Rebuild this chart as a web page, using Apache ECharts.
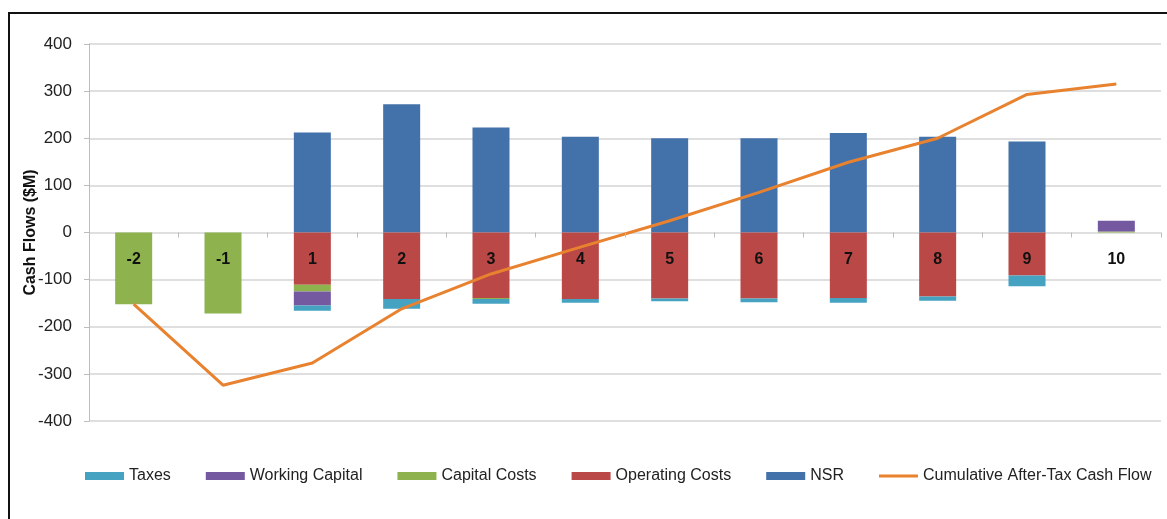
<!DOCTYPE html>
<html>
<head>
<meta charset="utf-8">
<script src="https://cdn.jsdelivr.net/npm/echarts@6/dist/echarts.min.js"></script>
<style>
  html, body { margin: 0; padding: 0; background: #fff; }
  #frame { position: absolute; left: 8px; top: 12px; width: 1170px; height: 520px;
           border-left: 2px solid #111; border-top: 2px solid #111; box-sizing: border-box; }
  #chart { position: absolute; left: 0; top: 0; width: 1167px; height: 519px; }
</style>
</head>
<body>
<div id="frame"></div>
<div id="chart"></div>
<script>
// Project years (pre-production years -2, -1 then operating years 1..10)
const years = ['-2', '-1', '1', '2', '3', '4', '5', '6', '7', '8', '9', '10'];

// Annual cash flow components, $M
const nsr            = [0, 0, 212, 272, 223, 203, 200, 200, 211, 203, 193, 0];
const operatingCosts = [0, 0, -111, -141, -139, -141, -140, -140, -139, -136, -91, 0];
const capitalCosts   = [-152, -172, -14, 0, -2, 0, 0, 0, 0, 0, 0, 2];
const workingCapital = [0, 0, -30, 0, 0, 0, 0, 0, 0, 0, 0, 23];
const taxes          = [0, 0, -11, -21, -10, -8, -6, -8, -10, -9, -23, 0];

// Running total of after-tax cash flow, $M
const cumulative = [-152, -324, -277, -162, -88, -31, 25, 85, 149, 200, 293, 315];

// Value axis ticks
const yTicks = { min: -400, max: 400, step: 100 };

const FONT = "'Liberation Sans', Arial, sans-serif";
const colors = {
  taxes: '#45A3C1',
  working: '#7459A0',
  capital: '#8DB24E',
  operating: '#B94846',
  nsr: '#4371AA',
  cumulative: '#E8822F'
};

const GRID = { left: 89, right: 6, top: 44, bottom: 98, height: 519 - 44 - 98 };
// the year axis is lifted from the bottom of the grid up to the zero line
const zeroOffset = -GRID.height * (0 - yTicks.min) / (yTicks.max - yTicks.min);

const chart = echarts.init(document.getElementById('chart'), null, { renderer: 'canvas' });

function barSeries(name, data, color) {
  return {
    name, type: 'bar', stack: 'flows', data,
    barWidth: 37,
    itemStyle: { color },
    emphasis: { disabled: true }
  };
}

chart.setOption({
  animation: false,
  textStyle: { fontFamily: FONT },
  grid: { left: GRID.left, right: GRID.right, top: GRID.top, bottom: GRID.bottom, containLabel: false },
  legend: {
    left: 80, top: 463, width: 1085,
    itemWidth: 39, itemHeight: 8, itemGap: 35,
    textStyle: { fontSize: 16, color: '#222', fontFamily: FONT },
    data: [
      { name: 'Taxes', icon: 'rect' },
      { name: 'Working Capital', icon: 'rect' },
      { name: 'Capital Costs', icon: 'rect' },
      { name: 'Operating Costs', icon: 'rect' },
      { name: 'NSR', icon: 'rect' },
      { name: 'Cumulative After-Tax Cash Flow', icon: 'path://M0,0 L40,0 L40,3 L0,3 Z' }
    ]
  },
  xAxis: {
    type: 'category',
    data: years,
    z: 10,
    position: 'bottom',
    offset: zeroOffset,
    axisLine: { show: false, onZero: false },
    axisTick: { show: true, inside: false, length: 5, lineStyle: { color: '#bdbdbd' } },
    axisLabel: { margin: 19, fontSize: 16, fontWeight: 'bold', color: '#111', fontFamily: FONT }
  },
  yAxis: {
    type: 'value',
    min: yTicks.min, max: yTicks.max, interval: yTicks.step,
    name: 'Cash Flows ($M)',
    nameLocation: 'middle',
    nameGap: 50,
    nameMoveOverlap: false,
    nameTextStyle: { fontSize: 16, fontWeight: 'bold', color: '#111', fontFamily: FONT },
    axisLine: { show: true, lineStyle: { color: '#bdbdbd' } },
    axisTick: { show: true, length: 5, lineStyle: { color: '#bdbdbd' } },
    axisLabel: { fontSize: 17, color: '#222', margin: 17, fontFamily: FONT },
    splitLine: { lineStyle: { color: '#d4d4d4', width: 1.5 } }
  },
  series: [
    barSeries('NSR', nsr, colors.nsr),
    barSeries('Operating Costs', operatingCosts, colors.operating),
    barSeries('Capital Costs', capitalCosts, colors.capital),
    barSeries('Working Capital', workingCapital, colors.working),
    barSeries('Taxes', taxes, colors.taxes),
    {
      name: 'Cumulative After-Tax Cash Flow',
      type: 'line',
      data: cumulative,
      symbol: 'none',
      z: 5,
      lineStyle: { color: colors.cumulative, width: 3 },
      itemStyle: { color: colors.cumulative },
      emphasis: { disabled: true }
    }
  ]
});
</script>
</body>
</html>
